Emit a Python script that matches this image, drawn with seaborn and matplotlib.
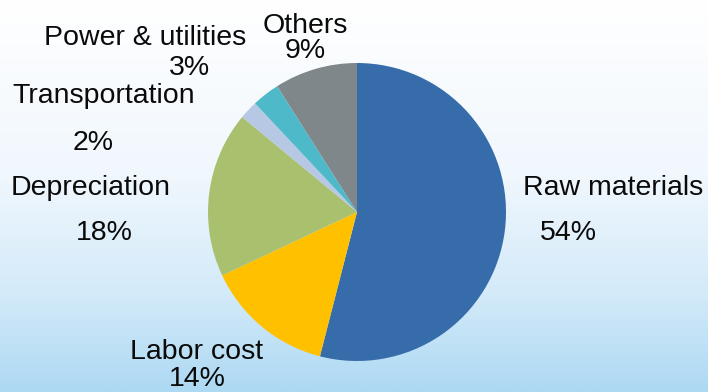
import numpy as np
import matplotlib
matplotlib.use("Agg")
import matplotlib.pyplot as plt
from matplotlib.colors import LinearSegmentedColormap
import seaborn as sns

# Cost structure shares (percent), clockwise from 12 o'clock
categories = ["Raw materials", "Labor cost", "Depreciation",
              "Transportation", "Power & utilities", "Others"]
shares = [54, 14, 18, 2, 3, 9]
slice_colors = ["#376CAB", "#FFC000", "#A9C06F", "#B7C8E4", "#4EB9C8", "#7F878A"]

sns.set_theme(style="white")
plt.rcParams["font.family"] = ["Liberation Sans", "DejaVu Sans"]

W, H = 708, 392
fig = plt.figure(figsize=(W / 100, H / 100), dpi=100)

# vertical white-to-sky-blue backdrop
bg = fig.add_axes([0, 0, 1, 1])
grad = np.linspace(0, 1, 256).reshape(-1, 1)
cmap = LinearSegmentedColormap.from_list(
    "sky", [(0.0, "#FFFFFF"), (0.45, "#F0F7FD"), (0.75, "#D3EAF9"), (1.0, "#ADD9F3")])
bg.imshow(grad, aspect="auto", cmap=cmap, extent=[0, 1, 0, 1], origin="upper")
bg.set_axis_off()

# pie area: centre (357, 212) px, radius 149 px
cx, cy, r = 357, 212, 149
ax = fig.add_axes([(cx - r) / W, (H - cy - r) / H, 2 * r / W, 2 * r / H])
ax.pie(shares, colors=slice_colors, startangle=90, counterclock=False,
       radius=1.0, wedgeprops=dict(linewidth=0))
ax.set_xlim(-1, 1)
ax.set_ylim(-1, 1)
ax.set_aspect("equal")
ax.set_axis_off()

# label anchors in pixels (centre x, baseline y): name line, then percent line
label_pos = {
    "Raw materials": ((613, 195), (568, 240)),
    "Labor cost": ((197, 359), (197, 386)),
    "Depreciation": ((91, 195), (104, 240)),
    "Transportation": ((104, 103), (93, 150)),
    "Power & utilities": ((145, 45), (189, 75)),
    "Others": ((305, 33), (305, 58)),
}

for name, val in zip(categories, shares):
    (nx, ny), (px, py) = label_pos[name]
    fig.text(nx / W, 1 - ny / H, name, ha="center", va="baseline",
             fontsize=20.5, color="#0A0A0A")
    fig.text(px / W, 1 - py / H, f"{val}%", ha="center", va="baseline",
             fontsize=20.5, color="#0A0A0A")

fig.savefig("out.png", dpi=100)
